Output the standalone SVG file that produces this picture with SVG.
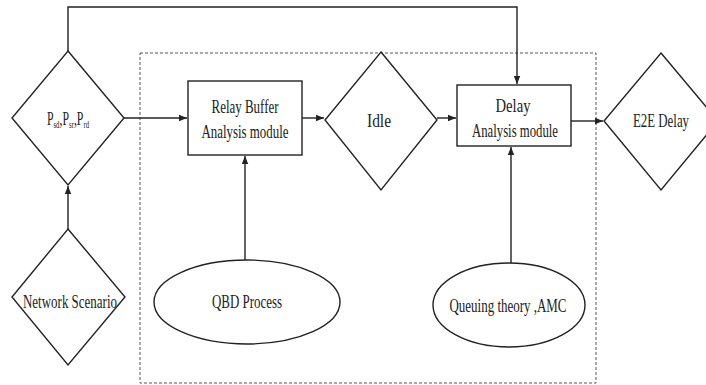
<svg xmlns="http://www.w3.org/2000/svg" width="706" height="385" viewBox="0 0 706 385">
<style>
.shape{fill:#fff;stroke:#222;stroke-width:1.4}
.conn{fill:none;stroke:#222;stroke-width:1.4}
.dash{fill:none;stroke:#555;stroke-width:1;stroke-dasharray:3,2}
text{font-family:"Liberation Serif","Times New Roman",serif;font-size:19px;fill:#222;text-anchor:middle}
</style>
<defs>
<marker id="arr" viewBox="0 0 10 10" refX="10" refY="5" markerWidth="8" markerHeight="8" markerUnits="userSpaceOnUse" orient="auto">
<path d="M0,1 L10,5 L0,9 Z" fill="#222"/>
</marker>
</defs>
<rect width="706" height="385" fill="#fff"/>
<rect class="dash" x="140" y="53" width="456" height="330"/>
<g id="connectors">
<path class="conn" d="M68,51 V7 H517 V84" marker-end="url(#arr)"/>
<path class="conn" d="M68,229 V186" marker-end="url(#arr)"/>
<path class="conn" d="M124,118 H187" marker-end="url(#arr)"/>
<path class="conn" d="M302,118 H324" marker-end="url(#arr)"/>
<path class="conn" d="M437,118 H456" marker-end="url(#arr)"/>
<path class="conn" d="M571,121 H603" marker-end="url(#arr)"/>
<path class="conn" d="M245,260 V156" marker-end="url(#arr)"/>
<path class="conn" d="M511,263 V147" marker-end="url(#arr)"/>
</g>
<g id="p-params">
<polygon class="shape" points="68,51 124,118 68,185 12,118"/>
<text transform="translate(68,125) scale(0.62,1)">P<tspan font-size="11" dy="3">sd</tspan><tspan dy="-3">,P</tspan><tspan font-size="11" dy="3">sr</tspan><tspan dy="-3">,P</tspan><tspan font-size="11" dy="3">rd</tspan></text>
</g>
<g id="network-scenario">
<polygon class="shape" points="68,229 125,297 68,365 12,297"/>
<text x="70" y="308" textLength="94" lengthAdjust="spacingAndGlyphs">Network Scenario</text>
</g>
<g id="relay-buffer">
<rect class="shape" x="188" y="81" width="114" height="74"/>
<text x="245" y="113" textLength="67" lengthAdjust="spacingAndGlyphs">Relay Buffer</text>
<text x="245" y="138" textLength="87" lengthAdjust="spacingAndGlyphs">Analysis module</text>
</g>
<g id="idle">
<polygon class="shape" points="381,52 437,120 381,190 325,120"/>
<text x="379" y="127" textLength="24" lengthAdjust="spacingAndGlyphs">Idle</text>
</g>
<g id="delay-analysis">
<rect class="shape" x="457" y="85" width="114" height="61"/>
<text x="513" y="112" textLength="35" lengthAdjust="spacingAndGlyphs">Delay</text>
<text x="515" y="137" textLength="86" lengthAdjust="spacingAndGlyphs">Analysis module</text>
</g>
<g id="e2e-delay">
<polygon class="shape" points="661,53 718,121 661,190 604,121"/>
<text x="661" y="127" textLength="56" lengthAdjust="spacingAndGlyphs">E2E Delay</text>
</g>
<g id="qbd">
<ellipse class="shape" cx="247" cy="302" rx="93" ry="42"/>
<text x="247" y="308" textLength="70" lengthAdjust="spacingAndGlyphs">QBD Process</text>
</g>
<g id="queuing">
<ellipse class="shape" cx="509" cy="305" rx="76" ry="42"/>
<text x="508" y="312" textLength="117" lengthAdjust="spacingAndGlyphs">Queuing theory ,AMC</text>
</g>
</svg>
